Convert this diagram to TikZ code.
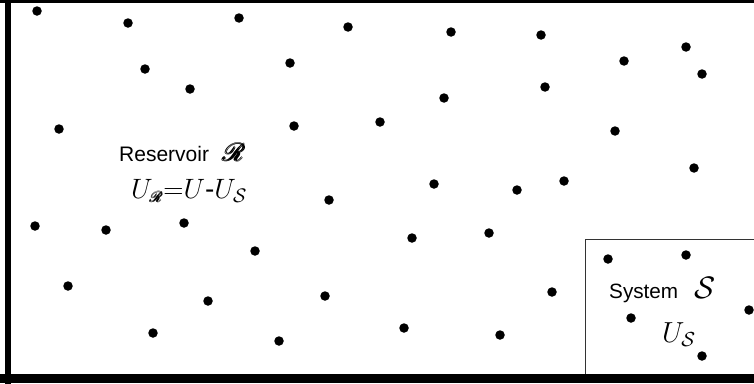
\documentclass[tikz,border=0pt]{standalone}
\usepackage{fix-cm}
\usepackage{amsmath}
\usepackage{fontspec}
\setmainfont{Liberation Sans}
\usepackage{mathrsfs}
\begin{document}
\begin{tikzpicture}[x=1pt,y=-1pt,
  dot/.style={circle,fill=black,inner sep=0pt,minimum size=9.5pt},
  lbl/.style={inner sep=0pt,font=\fontsize{21}{25}\selectfont},
  mlbl/.style={inner sep=0pt,font=\fontsize{28}{32}\selectfont}]
\useasboundingbox (0,0) rectangle (754,383);
\begin{scope}
\clip (0,0) rectangle (754,383);
\fill[white] (0,0) rectangle (754,383);
% frame
\draw[line width=6pt] (0,0) -- (754,0);
\draw[line width=6pt] (8,-5) -- (8,390);
\draw[line width=9pt] (0,378) -- (760,378);
% system box
\draw[line width=0.8pt,black!80] (585.5,374) -- (585.5,239.5) -- (760,239.5);
% dots
\foreach \x/\y [count=\i] in {37/11,128/23,239/18,348/27,451/32,541/35,686/47,
  145/69,290/63,624/61,702/74,190/89,545/87,444/98,59/129,294/126,380/122,615/131,
  694/168,434/184,564/181,517/190,329/200,35/226,106/230,184/223,412/238,489/233,
  255/251,608/259,686/255,68/286,208/301,325/296,552/292,749/310,631/318,153/333,
  279/341,404/328,500/335,702/356}
  \node[dot] (d\i) at (\x,\y) {};
\end{scope}
% labels
\node[lbl,anchor=base west] (res) at (119,161.5) {Reservoir\hspace{14pt}{\fontsize{31}{34}\selectfont$\pmb{\mathscr{R}}$}};
\node[mlbl,anchor=base west] (ur) at (131,198) {$U_{\scriptscriptstyle\pmb{\mathscr{R}}}{=}U\text{-}U_{\mathcal{S}}$};
\node[lbl,anchor=base west,font=\fontsize{20.7}{25}\selectfont] (sys) at (609,298) {System\hspace{16pt}{\fontsize{31}{34}\selectfont$\mathcal{S}$}};
\node[mlbl,anchor=base west,font=\fontsize{29}{33}\selectfont] (us) at (662,342) {$U_{\mathcal{S}}$};
\end{tikzpicture}
\end{document}
